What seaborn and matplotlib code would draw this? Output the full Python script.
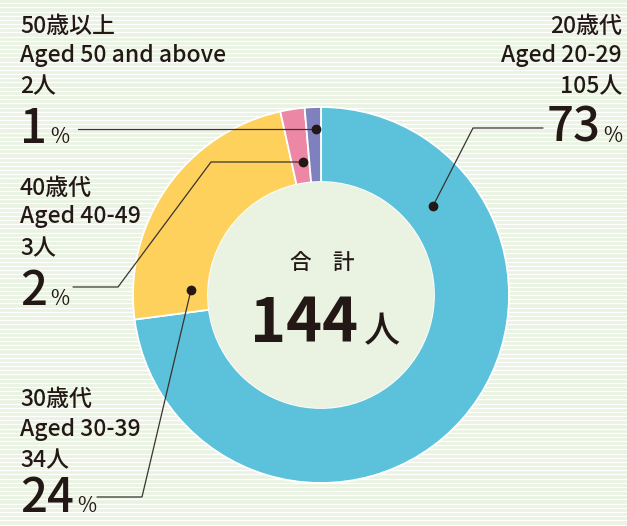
import numpy as np
import matplotlib
matplotlib.use("Agg")
import matplotlib.pyplot as plt
import seaborn as sns
from matplotlib.patches import Circle

# --- Data ---
AGE_JP = ["20歳代", "30歳代", "40歳代", "50歳以上"]
AGE_EN = ["Aged 20-29", "Aged 30-39", "Aged 40-49", "Aged 50 and above"]
COUNTS = [105, 34, 3, 2]
TOTAL_LABEL = "合　計"

# --- Styling ---
W, H = 627, 526
BG = "#eaf3e2"
TEXT = "#231815"
LINE = "#3a3331"
COLORS = ["#5cc1da", "#fdd15c", "#ec88a6", "#7f80be"]

sns.set_theme(style="white")
plt.rcParams["font.family"] = ["Noto Sans CJK JP", "DejaVu Sans"]


def Y(py):
    # pixel row (from top) -> data y
    return H - py


# label layout per category: anchor x, alignment, line baselines, pct baseline, leader path
LAYOUT = [
    dict(x=622, ha="right", base=[33, 62, 93], pct=142,
         path=[(433, 206), (473, 128), (543, 128)]),
    dict(x=20, ha="left", base=[406, 436, 467], pct=512,
         path=[(191, 290), (142, 497), (97, 497)]),
    dict(x=20, ha="left", base=[195, 223, 255], pct=305,
         path=[(303, 162), (211, 162), (118, 287), (73, 287)]),
    dict(x=20, ha="left", base=[33, 62, 93], pct=143,
         path=[(316, 129), (78, 129)]),
]

fig = plt.figure(figsize=(W / 100, H / 100), dpi=100)
fig.patch.set_facecolor(BG)
ax = fig.add_axes([0, 0, 1, 1])
ax.set_facecolor(BG)

# striped background
for yy in np.arange(1.5, H, 4.17):
    ax.axhline(yy, color="white", lw=0.9, zorder=0)

total = sum(COUNTS)
pcts = [round(c / total * 100) for c in COUNTS]

cx, cy, R = 321, Y(295), 188
ax.pie(COUNTS, colors=COLORS, startangle=90, counterclock=False,
       radius=R, center=(cx, cy),
       wedgeprops=dict(width=R - 113, edgecolor="white", linewidth=1.3))
ax.add_patch(Circle((cx, cy), 113, facecolor=BG, edgecolor="none", zorder=3))

ax.set_xlim(0, W)
ax.set_ylim(0, H)
ax.set_aspect("auto")
ax.axis("off")

fig.canvas.draw()
renderer = fig.canvas.get_renderer()


def width_px(t):
    bb = t.get_window_extent(renderer)
    return bb.width


for i, lay in enumerate(LAYOUT):
    lines = [AGE_JP[i], AGE_EN[i], f"{COUNTS[i]}人"]
    for txt, b in zip(lines, lay["base"]):
        ax.text(lay["x"], Y(b), txt, ha=lay["ha"], va="baseline",
                fontsize=16.5, fontweight="medium", color=TEXT, zorder=5)

    num = str(pcts[i])
    if lay["ha"] == "right":
        pc = ax.text(lay["x"], Y(lay["pct"]), "%", ha="right", va="baseline",
                     fontsize=15, color=TEXT, zorder=5)
        ax.text(lay["x"] - width_px(pc) - 2, Y(lay["pct"]), num, ha="right",
                va="baseline", fontsize=34, fontweight="medium", color=TEXT, zorder=5)
    else:
        nt = ax.text(lay["x"], Y(lay["pct"]), num, ha="left", va="baseline",
                     fontsize=34, fontweight="medium", color=TEXT, zorder=5)
        ax.text(lay["x"] + width_px(nt) + 3, Y(lay["pct"]), "%", ha="left",
                va="baseline", fontsize=15, color=TEXT, zorder=5)

    xs = [p[0] for p in lay["path"]]
    ys = [Y(p[1]) for p in lay["path"]]
    ax.plot(xs, ys, color=LINE, lw=0.9, zorder=6, solid_joinstyle="miter")
    ax.plot(xs[0], ys[0], "o", color=TEXT, ms=6, zorder=7)

# center total
ax.text(cx + 1, Y(263), TOTAL_LABEL, ha="center", va="center",
        fontsize=15.5, fontweight="medium", color=TEXT, zorder=5)
tn = ax.text(0, Y(342), str(total), ha="left", va="baseline",
             fontsize=44, fontweight="bold", color=TEXT, zorder=5)
tp = ax.text(0, Y(342), "人", ha="left", va="baseline",
             fontsize=26, fontweight="medium", color=TEXT, zorder=5)
wn, wp = width_px(tn), width_px(tp)
start = cx + 4 - (wn + 6 + wp) / 2
tn.set_x(start)
tp.set_x(start + wn + 6)

fig.savefig("out.png", dpi=100, facecolor=BG)
